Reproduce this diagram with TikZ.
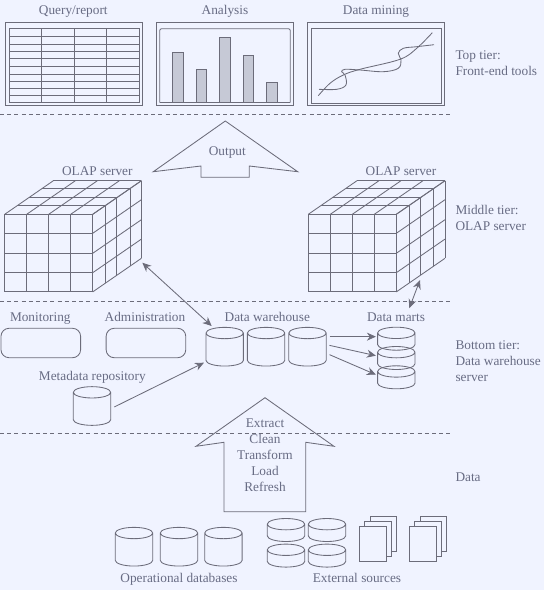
\documentclass[tikz,border=0pt]{standalone}
\usepackage{fontspec}
\setmainfont{Liberation Serif}
\usetikzlibrary{arrows.meta,positioning,calc,shapes.geometric}
\definecolor{paper}{RGB}{240,243,255}
\definecolor{ink}{RGB}{108,108,122}
\definecolor{word}{RGB}{104,108,132}
\definecolor{barfill}{RGB}{198,201,214}
\tikzset{
  line/.style={draw=ink,line width=0.85pt},
  flow/.style={line,-{Stealth[length=9pt,width=8pt]}},
  dflow/.style={line,{Stealth[length=9pt,width=8pt]}-{Stealth[length=9pt,width=8pt]}},
  tierline/.style={draw=ink,line width=0.7pt,dash pattern=on 4pt off 3.2pt},
  lbl/.style={text=word,inner sep=0pt,anchor=base},
  tierlbl/.style={text=word,inner sep=0pt,anchor=north west,align=left},
  tank/.style={cylinder,shape border rotate=90,line,aspect=1.7,outer sep=0pt,anchor=shape center,
               minimum width=37.4pt,minimum height=38.7pt},
  lowtank/.style={tank,minimum height=23pt},
  panel/.style={line,rounded corners=8pt,inner sep=0pt,minimum width=79.6pt,minimum height=29.4pt},
  page/.style={line,fill=paper,inner sep=0pt,minimum width=26.7pt,minimum height=35pt},
  olapcube/.pic={
    % front face
    \foreach \fx in {0,22,44,66,88} \draw[line] (\fx,0) -- (\fx,77.6);
    \foreach \fy in {0,19,39,58.4,77.6} \draw[line] (0,\fy) -- (88,\fy);
    % top and side
    \foreach \fx in {0,22,44,66,88} \draw[line] (\fx,0) -- ++(48.7,-33.6);
    \foreach \fy in {0,19,39,58.4,77.6} \draw[line] (88,\fy) -- ++(48.7,-33.6);
    \foreach \dd in {.26,.49,.77,1} {
      \draw[line] ($(0,0)+\dd*(48.7,-33.6)$) -- ++(88,0);
      \draw[line] ($(88,0)+\dd*(48.7,-33.6)$) -- ++(0,77.6);
    }
    \coordinate (-low) at (137.6,48.4);
    \coordinate (-foot) at (111.7,65.7);
  }
}
\begin{document}
\begin{tikzpicture}[x=1pt,y=-1pt,font=\fontsize{13.3}{16}\selectfont,node distance=4pt]
  \useasboundingbox (0,0) rectangle (544,590);
  \fill[paper] (0,0) rectangle (544,590);
  % tier rules
  \foreach \ty in {114.3,301,433.7} \draw[tierline] (0,\ty) -- (453,\ty);
  % top tier
  \node[lbl] (qlabel) at (73.3,14.7) {Query/report};
  \node[lbl] (alabel) at (225,14.7) {Analysis};
  \node[lbl] (mlabel) at (376,14.7) {Data mining};
  \draw[line] (5,22) rectangle (142.5,105.5);
  \draw[line] (156.3,22) rectangle (293.7,105.5);
  \draw[line] (307.7,22) rectangle (444.7,105.5);
  \draw[line] (9.3,28.7) rectangle (139,102.7);
  \foreach \qx in {41.7,74.3,106.7} \draw[line] (\qx,28.7) -- (\qx,102.7);
  \foreach \qy in {36,44,51.3,58.3,66,74,81.3,88.3,95.3} \draw[line] (9.3,\qy) -- (139,\qy);
  \draw[line,rounded corners=2pt] (159.7,102.5) -- (159.7,28.7) -- (290.3,28.7) -- (290.3,102.5);
  \draw[line] (159.7,102.5) -- (290.3,102.5);
  \foreach \bx/\by in {172.7/52.3,196.3/69.7,219.7/37.7,243.3/55.3,266.7/82.7}
    \draw[line,fill=barfill] (\bx,102.5) rectangle (\bx+10.4,\by);
  \draw[line] (311.3,28.7) rectangle (441.3,103);
  \draw[line] plot[smooth,tension=.6] coordinates {(319,89.3) (336.7,89.3) (346,85) (345,75) (341.7,71.7) (345,69.3) (360,70) (383.3,71.7) (398.3,68.3) (401,60) (398.3,53.3) (403.3,48.3) (416.7,46.7) (434,44.7)};
  \draw[line] plot[smooth,tension=.6] coordinates {(318.3,95.7) (330,83.3) (343.3,75) (360,69.3) (400,59.3) (416.7,48.3) (432.3,32.7)};
  \node[tierlbl] (toptier) at (455.3,50) {Top tier:\\Front-end tools};
  % output arrow
  \draw[line] (225.3,121) -- (297.7,171.7) -- (249.3,166) -- (249.3,177.3) -- (201,177.3) -- (201,166) -- (153.3,171.7) -- cycle;
  \node[lbl] (output) at (227.3,155) {Output};
  % middle tier
  \pic (olapa) at (4.7,214.3) {olapcube};
  \pic (olapb) at (308.3,214.3) {olapcube};
  \node[lbl] (olapalabel) at (97.3,175.5) {OLAP server};
  \node[lbl] (olapblabel) at (401,175.5) {OLAP server};
  \node[tierlbl] (midtier) at (455.3,205) {Middle tier:\\OLAP server};
  % bottom tier
  \node[panel,draw] (monitor) at (40.8,343) {};
  \node[panel,draw,right=24.7pt of monitor] (admin) {};
  \node[lbl] (monlabel) at (40.3,321.5) {Monitoring};
  \node[lbl] (adminlabel) at (145,321.5) {Administration};
  \node[lbl] (metalabel) at (92.3,380.7) {Metadata repository};
  \node[tank] (meta) at (92,406) {};
  \node[tank] (whousea) at (224.7,346.7) {};
  \node[tank,right=of whousea] (whouseb) {};
  \node[tank,right=of whouseb] (whousec) {};
  \node[lbl] (whlabel) at (267.3,321.5) {Data warehouse};
  \node[lowtank] (marta) at (396.3,338.7) {};
  \node[lowtank] (martb) at (396.3,358) {};
  \node[lowtank] (martc) at (396.3,377.3) {};
  \node[lbl] (martlabel) at (396,321.5) {Data marts};
  \node[tierlbl] (bottier) at (455.3,340.5) {Bottom tier:\\Data warehouse\\server};
  \draw[dflow] (olapa-low) -- ([xshift=-13pt,yshift=1.3pt]whousea.north);
  \draw[dflow] (olapb-foot) -- ([xshift=13pt,yshift=19pt]marta.north);
  \draw[flow] ([xshift=3.3pt,yshift=14.7pt]whousec.east) -- ([xshift=-1.7pt,yshift=6.7pt]marta.west);
  \draw[flow] ([xshift=3.3pt,yshift=6pt]whousec.east) -- ([xshift=-1.7pt,yshift=7pt]martb.west);
  \draw[flow] ([xshift=3.3pt,yshift=-3.3pt]whousec.east) -- ([xshift=-1.7pt,yshift=7.3pt]martc.west);
  \draw[flow] ([xshift=3.6pt,yshift=3.7pt]meta.east) -- ([xshift=-2pt,yshift=-11.3pt]whousea.west);
  % extract arrow
  \draw[line] (265,397.7) -- (334,446.3) -- (305.7,442.3) -- (305.7,511.7) -- (224,511.7) -- (224,442.3) -- (196,446.3) -- cycle;
  \node[text=word,inner sep=0pt,align=center,anchor=north] (etl) at (265,419) {Extract\\Clean\\Transform\\Load\\Refresh};
  % data
  \node[tierlbl] (datatier) at (455.3,472.5) {Data};
  \node[tank] (opa) at (134,546.7) {};
  \node[tank,right=7.6pt of opa] (opb) {};
  \node[tank,right=7pt of opb] (opc) {};
  \node[lbl] (oplabel) at (179,582.5) {Operational databases};
  \node[lowtank] (exta) at (286,530) {};
  \node[lowtank,right=3.6pt of exta] (extb) {};
  \node[lowtank,below=2.6pt of exta] (extc) {};
  \node[lowtank,right=3.6pt of extc] (extd) {};
  \node[lbl] (extlabel) at (357,582.5) {External sources};
  \foreach \px/\pname in {372.7/paga,422.7/pagb} {
    \node[page,draw] (\pname c) at (\px+10.6,533.8) {};
    \node[page,draw] (\pname b) at (\px+5.3,539) {};
    \node[page,draw] (\pname a) at (\px,544.2) {};
  }
\end{tikzpicture}
\end{document}
